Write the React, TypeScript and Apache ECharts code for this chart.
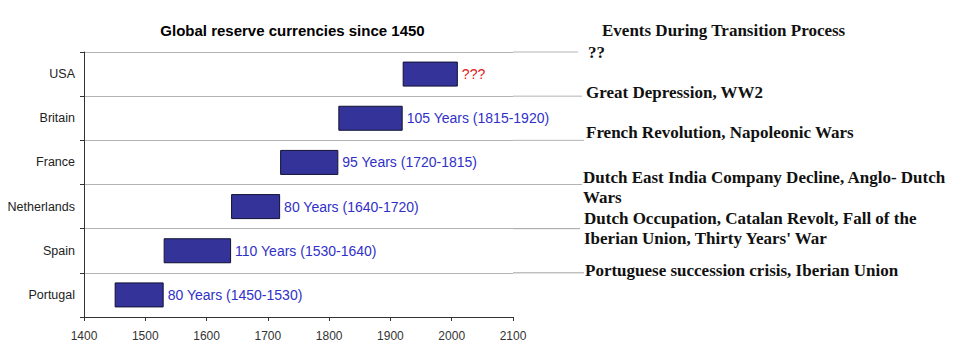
import React, { useEffect, useRef } from "react";
import * as echarts from "echarts";

const countries = ["Portugal", "Spain", "Netherlands", "France", "Britain", "USA"];
const starts = [1450, 1530, 1640, 1720, 1815, 1920];
const ends = [1530, 1640, 1720, 1815, 1920, 2010];
const barLabels = [
  "80 Years (1450-1530)",
  "110 Years (1530-1640)",
  "80 Years (1640-1720)",
  "95 Years (1720-1815)",
  "105 Years (1815-1920)",
  "???",
];
const labelColors = ["#3030c8", "#3030c8", "#3030c8", "#3030c8", "#3030c8", "#e02020"];
const xTicks = { min: 1400, max: 2100, interval: 100 };
const chartTitle = "Global reserve currencies since 1450";
const eventsTitle = "Events During Transition Process";
// events listed top (USA) to bottom (Portugal); each entry may span two lines
const events: string[][] = [
  ["??"],
  ["Great Depression, WW2"],
  ["French Revolution, Napoleonic Wars"],
  ["Dutch East India Company Decline, Anglo- Dutch", "Wars"],
  ["Dutch Occupation, Catalan Revolt, Fall of the", "Iberian Union, Thirty Years' War"],
  ["Portuguese succession crisis, Iberian Union"],
];

const W = 962;
const H = 357;
const GRID_LEFT = 84;
const GRID_RIGHT_X = 513;
const GRID_TOP = 52;
const GRID_BOTTOM_Y = 317;
const SERIF = "bold 17px 'Liberation Serif', 'Times New Roman', serif";

export default function App() {
  const ref = useRef<HTMLDivElement>(null);
  useEffect(() => {
    document.body.style.margin = "0";
    if (!ref.current) return;
    const chart = echarts.init(ref.current, undefined, { renderer: "svg" });
    const band = (GRID_BOTTOM_Y - GRID_TOP) / countries.length;
    const graphics: any[] = [];
    graphics.push({
      type: "text",
      x: 292.5,
      y: 30.5,
      style: {
        text: chartTitle,
        font: "bold 15px 'Liberation Sans', Arial, sans-serif",
        fill: "#000",
        textAlign: "center",
        textVerticalAlign: "middle",
      },
    });
    graphics.push({
      type: "text",
      x: 602,
      y: 30,
      style: {
        text: eventsTitle,
        font: SERIF,
        fill: "#111",
        textAlign: "left",
        textVerticalAlign: "middle",
      },
    });
    // extension of separator lines to the event texts
    const extEnd = [578, 582, 584, 582, 580, 584];
    for (let i = 0; i < countries.length; i++) {
      const y = GRID_TOP + i * band;
      graphics.push({
        type: "line",
        shape: { x1: GRID_RIGHT_X, y1: y, x2: extEnd[i], y2: y },
        style: { stroke: i >= 4 ? "#a0a0a0" : "#b4b4b4", lineWidth: 1 },
      });
    }
    const eventY = [52, 92, 132, 177, 218, 270];
    const eventX = [588, 586, 586, 583, 584, 585];
    events.forEach((lines, i) => {
      lines.forEach((t, j) => {
        graphics.push({
          type: "text",
          x: eventX[i],
          y: eventY[i] + j * 20.5,
          style: {
            text: t,
            font: SERIF,
            fill: "#111",
            textAlign: "left",
            textVerticalAlign: "middle",
          },
        });
      });
    });

    chart.setOption({
      animation: false,
      backgroundColor: "#fff",
      grid: {
        left: GRID_LEFT,
        right: W - GRID_RIGHT_X,
        top: GRID_TOP,
        bottom: H - GRID_BOTTOM_Y,
        containLabel: false,
      },
      xAxis: {
        type: "value",
        min: xTicks.min,
        max: xTicks.max,
        interval: xTicks.interval,
        splitLine: { show: false },
        axisLine: { show: true, lineStyle: { color: "#333", width: 1 } },
        axisTick: { show: true, length: 4, lineStyle: { color: "#333" } },
        axisLabel: {
          color: "#333",
          fontSize: 12,
          fontFamily: "'Liberation Sans', Arial, sans-serif",
          margin: 13,
          formatter: (v: number) => String(v),
        },
      },
      yAxis: {
        type: "category",
        data: countries,
        axisLine: { show: true, lineStyle: { color: "#333", width: 1 } },
        axisTick: { show: true, length: 4, lineStyle: { color: "#333" } },
        splitLine: { show: true, lineStyle: { color: "#b4b4b4", width: 1 } },
        axisLabel: {
          color: "#222",
          fontSize: 12.5,
          fontFamily: "'Liberation Sans', Arial, sans-serif",
          margin: 9,
        },
      },
      series: [
        {
          type: "bar",
          stack: "span",
          silent: true,
          barWidth: 25,
          itemStyle: { color: "transparent", borderWidth: 0 },
          data: starts,
        },
        {
          type: "bar",
          stack: "span",
          barWidth: 25,
          itemStyle: { color: "#333399", borderColor: "#111133", borderWidth: 1 },
          label: {
            show: true,
            position: "right",
            distance: 4,
            fontSize: 14,
            fontFamily: "'Liberation Sans', Arial, sans-serif",
            formatter: (p: any) => barLabels[p.dataIndex],
          },
          data: ends.map((e, i) => ({
            value: e - starts[i],
            label: { color: labelColors[i] },
          })),
        },
      ],
      graphic: graphics,
    });
    return () => chart.dispose();
  }, []);
  return <div ref={ref} style={{ width: W, height: H }} />;
}
